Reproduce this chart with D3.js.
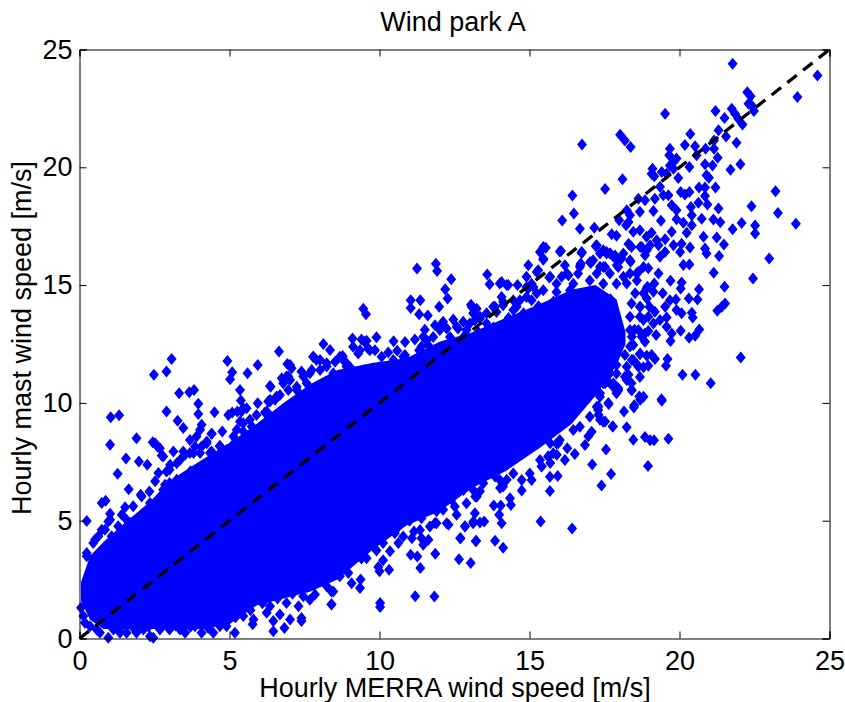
<!DOCTYPE html>
<html><head><meta charset="utf-8">
<script src="https://cdn.jsdelivr.net/npm/d3@7"></script>
<style>html,body{margin:0;background:#fff}svg{display:block}text{font-family:"Liberation Sans",Arial,sans-serif;fill:#000}</style>
</head><body><div id="c"></div>
<script>
const titleText="Wind park A", xLabel="Hourly MERRA wind speed [m/s]", yLabel="Hourly mast wind speed [m/s]";
const tickValues=[0,5,10,15,20,25];
const diagonal=[0,25];
// Fully saturated core of the cloud, read as an envelope
const cloudX   =[0.05,0.35,0.8,1.5,2.35,3.0,4.1,5.0,5.9,6.8,7.7,8.6,9.8,10.9,12,13.1,14.2,15.35,16.4,17.2,17.9,18.2];
const cloudHigh=[2.4,3.5,4.1,4.9,5.8,6.7,7.6,8.3,9.1,10,10.8,11.4,11.7,11.9,12.6,13,13.6,14.2,14.8,15,14.4,13];
const cloudLow =[1.6,0.8,0.4,0.4,0.4,0.4,0.4,0.6,1.4,1.7,2,2.5,3.8,4.8,5.4,6.4,7.1,8.1,9.1,10.3,11.6,12.5];
// Individually visible points, [x, y]
const upperRight=[[21.77,24.39],[24.6,23.9],[23.93,22.98],[19.52,22.27],[16.75,20.97],[22.26,23.19],[22.37,23.02],[22.3,22.7],[22.4,22.63],[22.48,22.39],[21.2,22.39],[21.74,22.48],[21.85,22.27],[21.96,22.06],[21.5,22.09],[22.1,21.82],[21.3,21.57],[21.55,21.31],[21.15,21.14],[21.9,21.04],[20.36,21.41],[20.18,20.95],[20.52,20.89],[19.68,20.79],[18.02,21.38],[18.18,21.14],[18.37,20.86],[20.87,20.79],[21.15,20.79],[20.57,20.51],[21.27,20.41],[19.66,20.51],[19.9,20.37],[19.8,20.22],[19.68,20.08],[20.33,20.01],[20.85,20.13],[21.1,20.08],[22.03,20.13],[21.7,19.9],[19.1,19.94],[19.07,19.73],[19.16,19.62],[19.41,19.8],[19.57,19.73],[19.8,19.94],[19.96,19.55],[20.9,19.66],[20.98,19.56],[18.1,19.49],[17.52,19.08],[19.35,19.17],[20.65,19.14],[20.85,19.14],[21.2,19.14],[16.43,18.8],[23.2,18.98],[19.46,18.81],[19.63,18.81],[19.18,18.67],[18.63,18.67],[18.85,18.6],[20.04,18.95],[20.18,18.85],[20.33,18.95],[20.85,18.78],[19.74,18.39],[19.9,18.18],[20.38,18.32],[20.63,18.5],[20.93,18.42],[21.3,18.25],[22.4,18.35],[18.68,18.11],[19.13,18.15],[16.48,18.04],[23.28,18.06],[18.24,18.18],[18.35,17.97],[17.99,17.75],[18.3,17.68],[18.22,17.54],[16.09,17.74],[19.38,17.73],[19.9,17.8],[20.41,17.97],[20.74,17.82],[20.13,17.65],[20.41,17.54],[21.13,17.78],[21.36,17.67],[22.07,17.64],[23.88,17.6],[22.52,17.53],[22.52,17.19],[21.77,17.37],[16.68,17.39],[17.16,17.43],[17.74,17.16],[17.9,17.09],[18.46,17.26],[18.68,17.33],[19.07,17.22],[18.9,17.05],[19.74,17.26],[20.24,17.22],[20.8,17.05],[21.24,17.02],[19.52,16.95],[19.24,16.9],[18.3,16.74],[18.4,16.62],[18.74,16.62],[19.02,16.69],[19.3,16.69],[19.8,16.69],[20.07,16.76],[20.35,16.6],[20.02,16.41],[20.85,16.55],[20.9,16.34],[21.48,16.72],[21.32,16.23],[22.99,16.13],[19.35,16.2],[18.85,16.27],[19.52,16.41],[17.22,16.67],[16.74,16.38],[16.05,16.45],[16.71,15.92],[18.37,15.99],[18.96,15.71],[19.3,15.49],[20.13,15.85],[20.33,15.87],[21.14,15.52],[22.45,15.28],[19.7,15.18],[20.07,15.11],[20.04,14.86],[21.5,14.93],[20.65,14.82],[19.16,15.07],[18.93,14.93],[19.44,14.65],[19.13,14.72],[19.88,14.39],[20.31,14.43],[20.6,14.39],[19.68,14.36],[19.52,14.08],[21.52,14.22],[21.41,14.08],[21.26,13.91],[19,14.08],[19.18,13.87],[19.9,13.94],[20.07,13.8],[20.41,13.83],[20.44,13.63],[19.57,13.63],[19.35,13.52],[19.13,13.37],[19.57,13.23],[18.96,13.05],[19.22,12.88],[19.74,12.95],[19.7,12.63],[20.04,13.06],[20.66,13.12],[20.52,12.85],[20.32,12.77],[18.85,12.6],[18.46,12.46],[18.68,12.07],[19.07,12.03],[19.18,11.86],[19.6,11.86],[19.55,11.58],[22.04,11.93],[18.96,11.58],[18.8,11.51],[18.6,11.61],[20.1,11.2],[20.53,11.19],[21.04,10.83],[19.4,10.15],[18.68,11.1],[18.4,10.55],[17.96,10.62],[17.63,10.9],[18.3,11.19],[18.66,10.27],[17.68,16.34],[17.96,16.06],[18.57,15.5],[18.8,14.65],[18.68,13.66],[18.5,13.1]];
const rightDense=[[17.35,16.34],[17.57,16.41],[17.8,16.2],[18.07,16.13],[17.35,15.78],[18.35,15.49],[18.63,15.56],[18.24,15.07],[18.52,14.65],[18.9,14.86],[18.4,14.22],[18.68,14.08],[18.35,13.66],[18.8,13.52],[18.96,13.66],[18.63,13.09],[18.41,12.81],[18.74,12.81],[18.35,12.39],[18.18,12.03],[18.41,11.82],[17.9,11.61],[17.68,11.75],[18.18,11.11],[17.52,10.83],[18.4,10.83],[17.13,11.26],[17.68,11.26],[17.35,10.41],[17.9,10.41],[16.46,10.41],[15.46,16.62],[15.46,16.12],[16.74,16.41],[17.24,16.69],[17.69,16.34],[18.13,16.34],[18.35,16.69],[18.69,16.62],[17.02,15.98],[16.69,15.84],[17.52,15.77],[17.91,15.84],[18.35,16.05],[18.91,16.48],[18.8,15.77],[18.13,15.35],[18.58,15.2],[16.3,15.42],[15.69,15.35],[15.24,15.56],[15.13,14.92],[18.91,14.43],[18.69,14.08],[18.85,12.95],[18.35,13.09],[18.69,12.1],[18.46,11.82],[18.91,12],[18.63,11.53],[18.24,11.53],[17.8,10.83],[17.96,10.54],[18.41,10.54],[18.24,10.97],[17.63,10],[18.49,9.9],[18.8,10.26]];
const upperLeft=[[3.07,11.86],[2.48,11.19],[2.9,11.33],[4.93,11.78],[5.94,11.61],[5.09,11.3],[5.6,11.26],[5.02,11],[6.65,12.18],[3.32,10.41],[3.66,10.45],[3.82,10.55],[5.35,10.55],[3.96,9.96],[5.38,10.1],[5.94,9.99],[6.35,10.72],[2.9,9.63],[3.96,9.53],[4.5,9.6],[1.04,9.39],[1.32,9.48],[4.96,9.49],[5.09,9.59],[5.46,9.77],[3.27,9.24],[3.46,8.93],[4.07,9.07],[4.02,8.86],[4.4,8.69],[4.76,8.79],[1.9,8.5],[1.02,8.22],[2.44,8.33],[2.6,8.15],[2.74,7.77],[3.68,8.43],[3.85,8.15],[4.24,8.36],[4.68,8.18],[3.13,7.94],[1.55,7.64],[1.98,7.51],[2.26,7.37],[1.27,6.99],[2.63,7.02],[2.52,6.67],[3,7.16],[2.85,6.53],[1.64,6.34],[2.04,6.1],[2.33,6.24],[0.74,5.75],[0.87,5.85],[1.52,5.57],[1.02,5.3],[1.41,5.25],[0.24,4.99],[0.96,4.97],[0.74,4.62],[1.24,4.12],[0.52,4.2],[0.24,3.49],[7.02,11.61],[7.4,11.33],[7.79,11.96],[8.13,12.5],[8.35,12.25],[6.9,11.12],[6.35,10.13]];
const upperLeftEdge=[[0.24,3.63],[0.46,4.05],[0.63,4.34],[0.85,4.62],[1.07,4.34],[1.02,5.04],[1.29,4.76],[1.57,5.04],[1.79,5.61],[2.07,6.03],[2.35,5.75],[2.63,5.89],[2.79,6.31],[3,6.6],[3.24,6.74],[2.9,7.09],[3.24,7.44],[3.52,7.8],[3.8,7.87],[4.07,8.15],[4.4,7.94],[5.24,8.86],[5.46,9.14],[5.74,9],[5.4,9.63],[6.24,9.63],[6.35,10.06],[6.57,10.27],[6.79,10.83],[7.02,10.97],[7.24,10.55],[7.46,11.12],[7.74,11.4],[8.02,11.82],[8.24,11.54],[8.46,11.26],[8.68,11.96],[8.9,11.68],
[5.26,9.63],[5.57,9.77],[6.18,9.59],[6.29,10.06],[6.52,10.13],[6.37,10.69],[6.74,11.05],[6.96,11.12],[6.93,11.65],[7.07,11.47],[7.57,10.83],[7.79,11.96],[7.9,11.82],[7.68,11.26],[8.02,11.4],[8.77,11.99],[8.52,11.75],[8.24,11.68],[8.9,11.54],[8.35,10.97],[7.9,10.69],[7.24,10.69],[6.96,10.55],[6.68,10.34],[5.9,9.49],[5.68,9.28],[5.35,9.21],[5.79,8.93],[5.46,8.79],[5.13,8.57],[4.41,8.69],[4.68,8.15],[4.24,8.29],[3.9,8.57],[3.46,7.94],[3.35,7.58],[3.68,7.87],[4.02,7.87],[4.35,7.87],[4.9,8],[2.52,8.29],[2.68,8.08],[2.79,7.73],[3.02,7.37]];
const upperSecondRow=[[0.5,3.3],[0.9,3.9],[1.3,4.4],[1.7,4.9],[2.1,5.3],[2.5,5.7],[2.9,6.1],[3.3,6.6],[3.7,7.1],[4.2,7.4],[4.7,7.8],[5.1,8.2],[5.6,8.6],[6,8.95],[6.4,9.4],[6.9,9.8],[7.3,10.1],[7.8,10.5],[8.2,10.9],[8.6,11.1],[9.1,11.3],[9.5,11.4],[10,11.5],[10.4,11.5],[10.9,11.6],[11.4,11.7],[11.9,12.2],[12.3,12.5],[12.8,12.8],[13.3,13],[13.8,13.2],[14.3,13.6],[14.8,13.8],[15.3,14.1],[15.8,14.3],[16.3,14.5],[16.9,14.6],[17.3,14.6],[17.7,14.4]];
const lowerLeft=[[0.05,1.3],[0.18,0.67],[0.96,0.03],[2.35,0.1],[2.46,0.03],[1.35,0.24],[3,0.38],[3.52,0.24],[4.07,0.24],[4.46,0.24],[5.18,0.24],[5.77,0.6],[6.46,0.31],[6.83,0.45],[7.4,0.74],[6.46,0.74],[6.68,1.02],[7.02,0.81],[8.4,1.44],[7.3,1.37],[7.85,1.87],[8.46,2],[5.8,0.81],[4.9,0.52],[1.9,0.24],[0.57,0.38]];
const lowerLeftEdge=[[0.13,0.95],[0.35,0.52],[0.68,0.24],[1.13,0.38],[1.57,0.24],[2.13,0.38],[2.68,0.38],[3.35,0.38],[3.85,0.52],[4.29,0.45],[4.68,0.52],[5.46,0.95],[6.24,1.09],[6.35,1.37],[6.9,1.51],[7.46,1.79],[7.68,1.65],[8.24,2.22],[8.68,2.64],[8.96,2.78]];
const lowerSecondRow=[[5.2,0.9],[5.7,1.2],[6.1,1.5],[6.6,1.7],[7.1,1.9],[7.6,2.2],[8.1,2.6],[8.6,3],[9,3.2],[9.4,3.4],[9.8,3.9],[10.2,4.4],[10.6,4.7],[11,5],[11.4,5.1],[11.9,5.4],[12.4,5.9],[12.8,6.3],[13.3,6.8],[0.3,1.4],[0.6,0.9],[1,0.6],[1.4,0.5],[1.8,0.45],[2.3,0.5],[2.8,0.6],[3.2,0.55],[3.7,0.5],[4.1,0.6],[4.6,0.7]];
const middleUpper=[[11.25,15.7],[11.88,15.91],[11.92,15.6],[12.39,15.25],[12.19,14.82],[12.27,14.43],[13.59,15.45],[13.67,15.04],[11.04,14.36],[11.36,14.36],[11.04,14.03],[11.99,14.08],[11.32,13.76],[11.61,13.71],[9.46,14],[9.55,13.76],[13.05,14.17],[13.24,14],[14.07,15.13],[14.29,15],[14.6,15],[14.07,14.5],[13.79,14.08],[14.46,14.36],[14.96,15.84],[15.35,16.4],[15.54,16.59],[16.01,16.43],[15.46,16.08],[15.29,15.63],[15.66,15.32],[14.9,15.35],[14.9,14.92],[16.18,15.84],[16.68,15.77],[16.74,16.36],[17.21,16.65],[17.04,15.94],[17.57,16.34],[17.85,16.26],[17.46,15.77],[15.9,15.06],[16.46,15.06],[17.24,15.49],[17.9,15.06],[9.1,12.73],[9.4,12.69],[9.9,12.79],[10.47,12.62],[10.85,12.59],[11.18,12.69],[11.51,13.11],[11.85,13.3],[12.46,13.54],[12.79,13.44],[9.12,12.38],[9.51,12.59],[9.85,12.24],[10.29,12.14],[10.59,12.21],[8.77,11.96],[10.85,12.03],[11.32,12.24],[11.79,12.8],[12.24,13.16],[13.35,13.58]];
const middleUpperEdge=[[8.79,11.82],[9.01,11.53],[9.29,12.1],[9.62,12.31],[10.07,11.96],[10.46,11.82],[10.79,11.96],[11.07,11.74],[11.35,11.96],[11.57,12.66],[12.01,13.09],[12.35,12.8],[12.62,13.16],[12.9,13.09],[13.18,13.51],[13.57,13.37],[13.9,13.86],[14.12,14.29],[14.57,14.08],[14.9,14.5],[15.07,15.06],[15.46,14.78],[15.9,14.71],[16.07,15.35],[16.35,14.78],[16.62,15.49],[17.01,15.2],[17.46,15.06],[17.68,15.49],[17.96,15.77],[17.12,16.05],[17.46,16.48],[16.24,15.49],
[9.57,12.64],[11.4,12.39],[9.35,12.24],[9.68,12.24],[10.85,11.89],[11.62,12.46],[11.46,12.81],[12.01,13.23],[12.12,13.44],[13.07,14.08],[13.12,13.8],[13.35,13.66],[13.57,13.8],[13.85,14.08],[14.12,14.15],[14.46,13.94],[14.68,14.36],[14.01,15.07],[14.24,15],[14.96,14.86],[15.24,14.65],[15.07,14.36],[12.57,13.23],[13.01,13.37]];
const middleLower=[[17.77,9],[17.55,8.02],[17.09,7.39],[17.72,6.98],[17.4,6.49],[17.64,9.95],[17.46,9.2],[17.29,9.7],[17.07,8.78],[16.85,8.21],[16.26,8.07],[16.51,7.83],[16.18,7.58],[15.94,6.9],[15.68,6.26],[15.68,6.87],[15.37,4.97],[16.42,4.67],[14.74,6.28],[14.38,5.67],[14.35,5.95],[15.07,6.73],[14.74,6.73],[14.12,6.45],[15.62,7.72],[15.4,7.3],[15.9,8.28],[13.81,5.64],[14.04,5.64],[13.99,5.25],[14.07,4.89],[13.18,5.32],[13.12,4.89],[13.35,4.92],[13.49,4.97],[12.85,4.75],[12.7,4.26],[13.21,4.13],[13.85,4.15],[14.12,3.85],[13.24,6.02],[12.24,4.89],[11.9,4.89],[12.57,5.25],
[18.15,9.64],[18.48,9.81],[19.41,10.09],[18.69,10.13],[17.78,9],[18.24,8.97],[18.46,8.44],[18.85,8.55],[19.02,8.41],[19.15,8.41],[19.63,8.48],[18.95,7.32],[17.3,9.85],[17.3,9.5],[17.52,9.21],[17.35,9.28],[16.96,8.58],[15.96,8.29],[15.69,8.29],[15.91,7.8],[15.63,7.73],[15.69,7.45],[15.41,7.31],[14.02,6.39],[13.85,6.88],[14.24,6.74],[13.35,6.25],[13.19,6.03]];
const middleLowerEdge=[[17.35,10.26],[17.24,9.84],[17.01,9.41],[16.68,8.99],[16.46,8.85],[16.01,8.43],[15.79,7.86],[15.35,7.58],[15.01,7],[14.46,7],[14.01,6.73],[13.57,7.15],[13.46,6.59],[13.12,6.31],[12.9,5.74],[12.51,5.6],[12.12,5.46],[11.68,4.75],[11.35,4.61],[10.79,4.33],[10.51,4.47],[10.12,4.05],[17.79,10.69],[17.9,11.25],[17.46,10.83]];
const bottomEdge=[[8.4,1.45],[10.02,1.51],[10.02,1.34],[11.19,1.79],[11.83,1.78],[9.57,3.41],[10.12,3.32],[9.96,3.03],[10,2.85],[10.32,2.92],[9.37,2.5],[9.35,2.14],[8.4,2],[11.04,3.55],[11.26,3.48],[11.36,2.99],[11.86,3.6],[12.65,3.36],[13.04,3.2],[12.69,4.26],[13.22,4.15],[11.08,4.26],[11.15,4.54],[11.46,3.98],[11.63,4.19],[11.4,4.26],[10.63,4.05],[10.35,3.7],[9.9,3.74],[12.85,4.76],[13.13,4.97],[7.4,0.87],[11.85,4.9],[12.3,4.83],[9.07,2.35]];

const W=845,H=702,L=79.5,R=829.5,T=49.5,B=638.5;
const x=d3.scaleLinear().domain([0,25]).range([L,R]);
const y=d3.scaleLinear().domain([0,25]).range([B,T]);
const svg=d3.select("#c").append("svg").attr("width",W).attr("height",H);
const blue="#0000ff";

svg.append("path").datum(cloudX.map((v,i)=>[v,cloudLow[i],cloudHigh[i]]))
  .attr("fill",blue)
  .attr("d",d3.area().x(d=>x(d[0])).y0(d=>y(d[1])).y1(d=>y(d[2])));

const pts=[...upperRight,...rightDense,...upperLeft,...upperLeftEdge,...upperSecondRow,...lowerLeft,...lowerLeftEdge,...lowerSecondRow,...middleUpper,...middleUpperEdge,...middleLower,...middleLowerEdge,...bottomEdge];
svg.append("g").attr("fill",blue).selectAll("path").data(pts).join("path")
  .attr("transform",d=>`translate(${x(d[0])},${y(d[1])})`)
  .attr("d","M0,-6L5,0L0,6L-5,0Z");

svg.append("line").attr("x1",x(diagonal[0])).attr("y1",y(diagonal[0])).attr("x2",x(diagonal[1])).attr("y2",y(diagonal[1]))
  .attr("stroke","#000").attr("stroke-width",3.3).attr("stroke-dasharray","12 8");

const fmt=d3.format("d");
const bottom=svg.append("g").attr("transform",`translate(0,${B})`).call(d3.axisBottom(x).tickValues(tickValues).tickFormat(fmt).tickSize(-7).tickPadding(12));
const left=svg.append("g").attr("transform",`translate(${L},0)`).call(d3.axisLeft(y).tickValues(tickValues).tickFormat(fmt).tickSize(-7).tickPadding(7));
const top_=svg.append("g").attr("transform",`translate(0,${T})`).call(d3.axisTop(x).tickValues(tickValues).tickFormat("").tickSize(-7));
const right=svg.append("g").attr("transform",`translate(${R},0)`).call(d3.axisRight(y).tickValues(tickValues).tickFormat("").tickSize(-7));
[bottom,left,top_,right].forEach(g=>{
  g.select(".domain").attr("stroke","#000").attr("stroke-width",1);
  g.selectAll(".tick line").attr("stroke","#000").attr("stroke-width",1);
  g.selectAll("text").attr("font-size",27).attr("font-family",'"Liberation Sans",Arial,sans-serif').attr("fill","#000");
});
svg.append("text").attr("x",453).attr("y",31).attr("text-anchor","middle").attr("font-size",27).text(titleText);
svg.append("text").attr("x",455).attr("y",697).attr("text-anchor","middle").attr("font-size",27).text(xLabel);
svg.append("text").attr("transform","translate(31,338) rotate(-90)").attr("text-anchor","middle").attr("font-size",27).text(yLabel);
</script></body></html>
